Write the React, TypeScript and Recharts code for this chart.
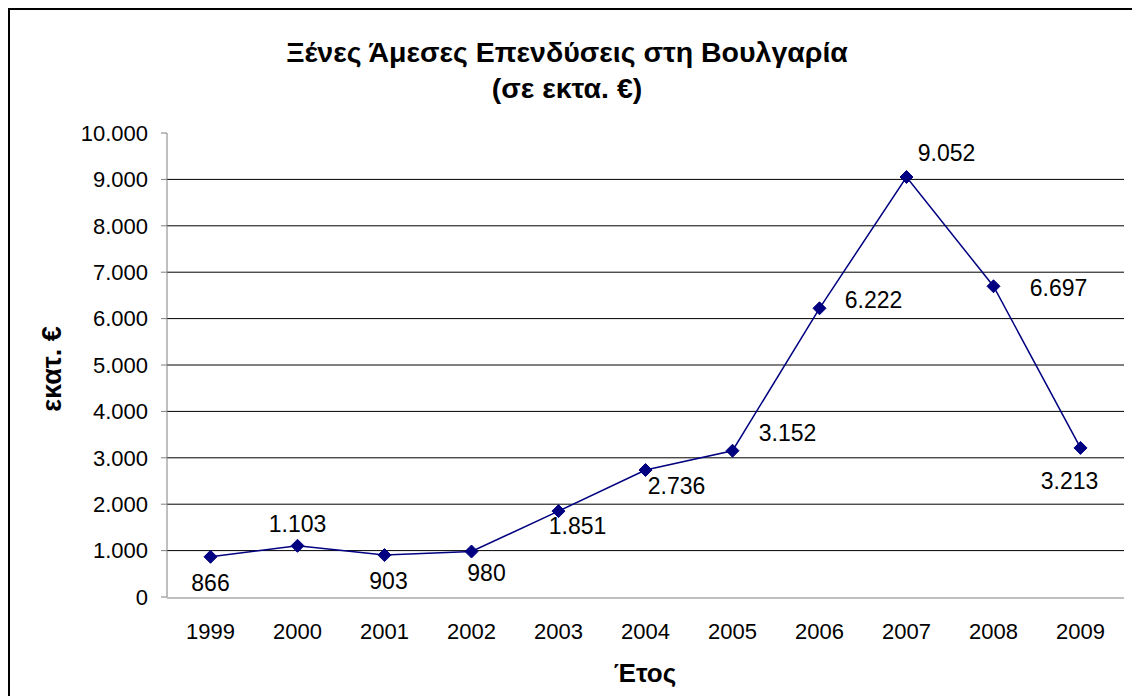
import React from 'react';
import {
  LineChart,
  Line,
  XAxis,
  YAxis,
  CartesianGrid,
  LabelList,
} from 'recharts';

// Ξένες Άμεσες Επενδύσεις, εκατ. €
const years = ['1999', '2000', '2001', '2002', '2003', '2004', '2005', '2006', '2007', '2008', '2009'];
const fdi = [866, 1103, 903, 980, 1851, 2736, 3152, 6222, 9052, 6697, 3213];
const yTicks = [0, 1000, 2000, 3000, 4000, 5000, 6000, 7000, 8000, 9000, 10000];
const gridValues = [1000, 2000, 3000, 4000, 5000, 6000, 7000, 8000, 9000];
const edgeTicks = [0, 1, 2, 3, 4, 5, 6, 7, 8, 9, 10, 11];

// where each value label sits relative to its point (dx, dy)
const labelOffsets: [number, number][] = [
  [0, 26], [0, -22], [4, 26], [15, 21], [19, 15], [31, 16],
  [55, -18], [54, -8], [40, -24], [65, 2], [-11, 33],
];

const data = years.map((year, i) => ({ year, slot: i + 0.5, value: fdi[i] }));

const FONT = '"Liberation Sans", Arial, sans-serif';
const NAVY = '#000080';
const PLOT_W = 957;
const HALF_SLOT = PLOT_W / years.length / 2;

const fmt = (n: number) => String(n).replace(/\B(?=(\d{3})+(?!\d))/g, '.');

const Diamond = (props: any) => {
  const { cx, cy } = props;
  if (cx == null || cy == null) return null;
  const r = 6.5;
  return (
    <polygon
      points={`${cx},${cy - r} ${cx + r},${cy} ${cx},${cy + r} ${cx - r},${cy}`}
      fill={NAVY}
      stroke={NAVY}
    />
  );
};

const ValueLabel = (props: any) => {
  const { x, y, value, index } = props;
  const [dx, dy] = labelOffsets[index] || [0, -20];
  return (
    <text
      x={x + dx}
      y={y + dy}
      textAnchor="middle"
      dominantBaseline="central"
      fontSize={23}
      fontFamily={FONT}
      fill="#000"
    >
      {fmt(value)}
    </text>
  );
};

export default function App() {
  return (
    <div style={{ position: 'fixed', inset: 0, overflow: 'hidden', background: '#fff' }}>
      <div
        style={{
          position: 'absolute',
          left: 8,
          top: 8,
          width: 1130,
          height: 700,
          borderTop: '2px solid #000',
          borderLeft: '2px solid #000',
          fontFamily: FONT,
          color: '#000',
        }}
      >
        <div
          style={{
            position: 'absolute',
            left: 557,
            top: 24,
            transform: 'translateX(-50%)',
            fontSize: 28.5,
            fontWeight: 'bold',
            textAlign: 'center',
            lineHeight: '36px',
            whiteSpace: 'nowrap',
          }}
        >
          Ξένες Άμεσες Επενδύσεις στη Βουλγαρία
          <br />
          (σε εκτα. €)
        </div>
        <div
          style={{
            position: 'absolute',
            left: 42,
            top: 359,
            transform: 'translate(-50%, -50%) rotate(-90deg)',
            fontSize: 27,
            fontWeight: 'bold',
            whiteSpace: 'nowrap',
          }}
        >
          εκατ. €
        </div>
        <div
          style={{
            position: 'absolute',
            left: 635,
            top: 663,
            transform: 'translate(-50%, -50%)',
            fontSize: 26,
            fontWeight: 'bold',
            whiteSpace: 'nowrap',
          }}
        >
          Έτος
        </div>

        <LineChart
          width={1122}
          height={686}
          data={data}
          margin={{ top: 123, right: 8, bottom: 0, left: 0 }}
          style={{ position: 'absolute', left: 0, top: 0 }}
        >
          <CartesianGrid
            vertical={false}
            horizontalValues={gridValues}
            stroke="#000"
            strokeWidth={1}
            yAxisId="v"
            xAxisId="cat"
          />
          <XAxis
            xAxisId="cat"
            dataKey="year"
            axisLine={false}
            tickLine={false}
            tickSize={0}
            tickMargin={26}
            interval={0}
            height={1}
            padding={{ left: HALF_SLOT, right: HALF_SLOT }}
            tick={{ fontSize: 22, fill: '#000', fontFamily: FONT }}
          />
          <XAxis
            xAxisId="edges"
            type="number"
            dataKey="slot"
            domain={[0, years.length]}
            ticks={edgeTicks}
            tick={false}
            tickSize={6}
            tickLine={{ stroke: '#808080' }}
            axisLine={{ stroke: '#808080' }}
            height={98}
          />
          <YAxis
            yAxisId="v"
            domain={[0, 10000]}
            ticks={yTicks}
            interval={0}
            width={157}
            tickSize={6}
            tickMargin={13}
            tickFormatter={fmt}
            tickLine={{ stroke: '#808080' }}
            axisLine={{ stroke: '#808080' }}
            tick={{ fontSize: 22, fill: '#000', fontFamily: FONT }}
          />
          <Line
            xAxisId="cat"
            yAxisId="v"
            type="linear"
            dataKey="value"
            stroke={NAVY}
            strokeWidth={1.5}
            dot={<Diamond />}
            activeDot={false}
            isAnimationActive={false}
          >
            <LabelList dataKey="value" content={<ValueLabel />} />
          </Line>
        </LineChart>
      </div>
    </div>
  );
}
